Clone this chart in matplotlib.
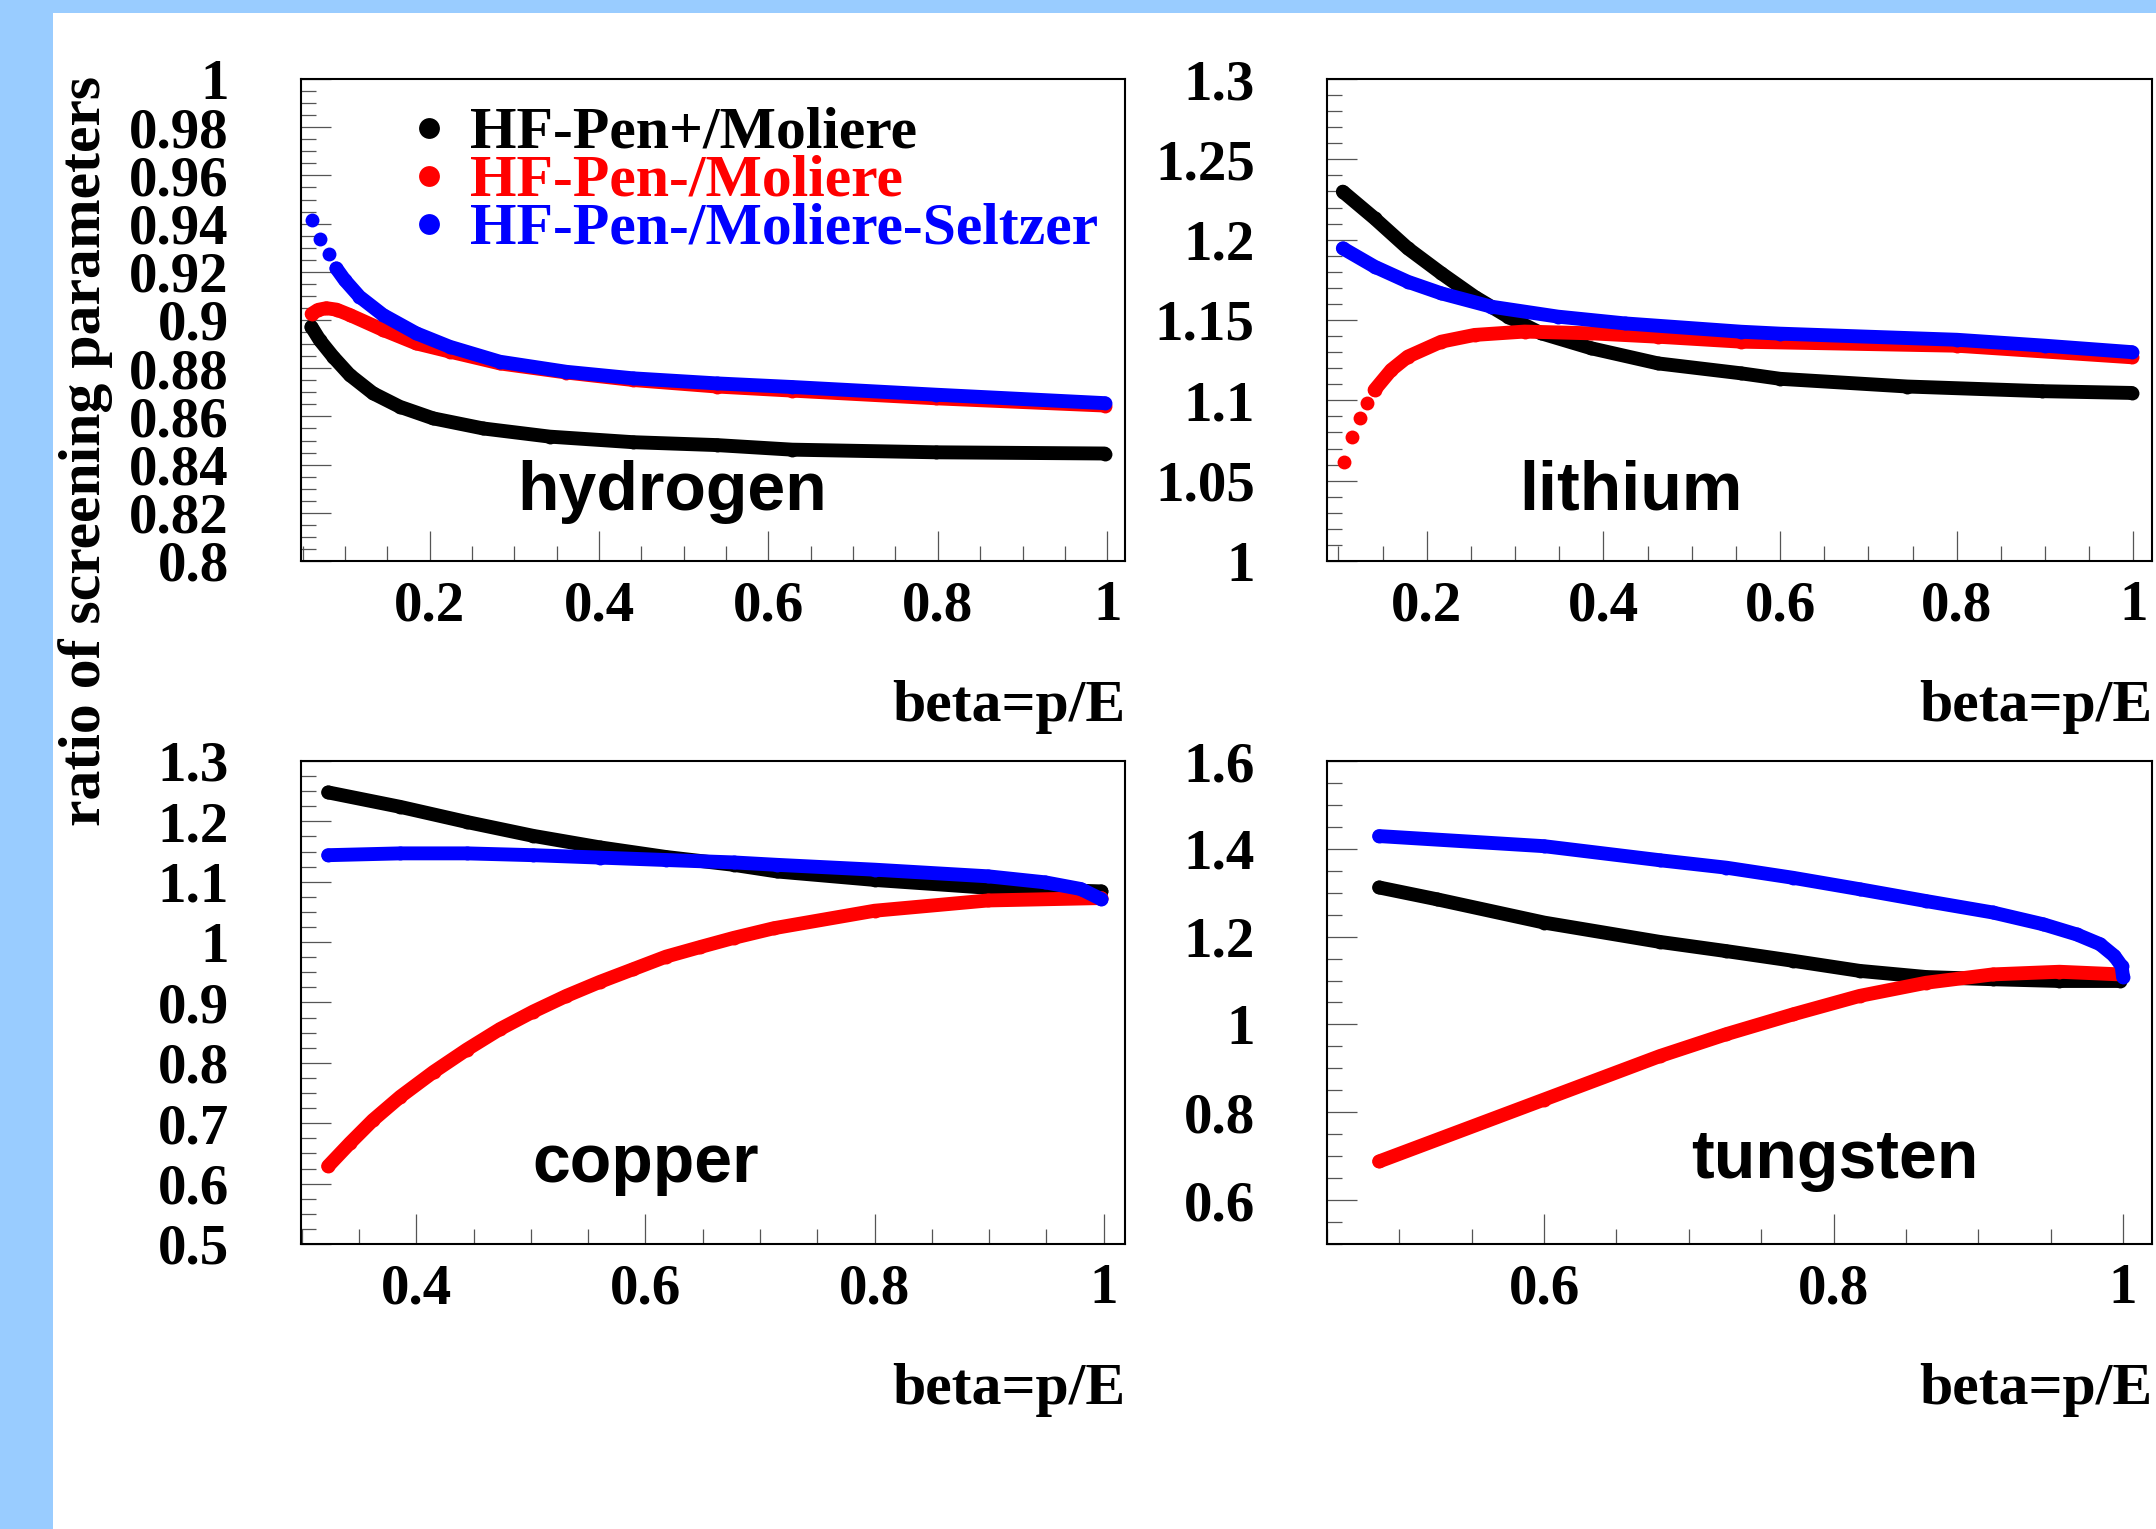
import matplotlib
matplotlib.use("Agg")
import matplotlib.pyplot as plt
from matplotlib.ticker import FixedLocator, MultipleLocator, FuncFormatter
from matplotlib.patches import Rectangle

# ---------------- data ----------------
SERIES_NAMES = ["HF-Pen+/Moliere", "HF-Pen-/Moliere", "HF-Pen-/Moliere-Seltzer"]
SERIES_COLORS = ["#000000", "#ff0000", "#0000ff"]
PANEL_NAMES = ["hydrogen", "lithium", "copper", "tungsten"]
X_TITLE = "beta=p/E"
Y_TITLE = "ratio of screening parameters"

# hydrogen
h_black_x = [0.0603, 0.070, 0.0858, 0.1055, 0.133, 0.1646, 0.2039, 0.263, 0.3418, 0.44, 0.5387, 0.628, 0.798, 0.997]
h_black_y = [0.8972, 0.8917, 0.8848, 0.8772, 0.8696, 0.8640, 0.8592, 0.855, 0.8516, 0.8493, 0.8481, 0.8462, 0.8451, 0.8446]
h_red_x = [0.0605, 0.068, 0.078, 0.090, 0.1055, 0.1448, 0.184, 0.2236, 0.2827, 0.3615, 0.44, 0.5387, 0.628, 0.798, 0.997]
h_red_y = [0.9025, 0.9042, 0.9049, 0.9043, 0.9021, 0.8959, 0.8903, 0.8869, 0.882, 0.8782, 0.8751, 0.8724, 0.8707, 0.8675, 0.8645]
h_blue_x = [0.0614, 0.0709, 0.081, 0.0898, 0.0996, 0.117, 0.1448, 0.184, 0.2236, 0.2827, 0.3615, 0.44, 0.5387, 0.628, 0.798, 0.997]
h_blue_y = [0.9415, 0.9335, 0.9274, 0.9214, 0.9166, 0.9097, 0.9021, 0.8945, 0.8889, 0.8827, 0.8785, 0.8758, 0.8737, 0.8722, 0.8690, 0.8655]

# lithium
li_black_x = [0.1049, 0.1408, 0.1785, 0.2163, 0.254, 0.2917, 0.3296, 0.3862, 0.4616, 0.556, 0.6, 0.744, 0.897, 0.998]
li_black_y = [1.2299, 1.2133, 1.1946, 1.1791, 1.1645, 1.1521, 1.1417, 1.1324, 1.123, 1.1168, 1.1134, 1.1086, 1.1057, 1.1046]
li_red_x = [0.106, 0.115, 0.1238, 0.1325, 0.1408, 0.1597, 0.1785, 0.2163, 0.254, 0.3107, 0.3862, 0.4616, 0.556, 0.8, 0.998]
li_red_y = [1.0618, 1.077, 1.0888, 1.0981, 1.1064, 1.1189, 1.1272, 1.1365, 1.1407, 1.1428, 1.1417, 1.1396, 1.1365, 1.1340, 1.1268]
li_blue_x = [0.1049, 0.1408, 0.1785, 0.2163, 0.273, 0.3484, 0.4239, 0.556, 0.6, 0.8, 0.9, 0.998]
li_blue_y = [1.1946, 1.1832, 1.1738, 1.1666, 1.1583, 1.1521, 1.1479, 1.1427, 1.1415, 1.1377, 1.1340, 1.1300]

# copper
cu_black_x = [0.323, 0.386, 0.444, 0.502, 0.560, 0.618, 0.677, 0.715, 0.8, 0.899, 0.998]
cu_black_y = [1.248, 1.224, 1.199, 1.176, 1.157, 1.141, 1.128, 1.117, 1.103, 1.090, 1.084]
cu_red_x = [0.323, 0.342, 0.362, 0.386, 0.415, 0.444, 0.473, 0.502, 0.531, 0.560, 0.589, 0.618, 0.648, 0.677, 0.712, 0.8, 0.899, 0.998]
cu_red_y = [0.629, 0.667, 0.705, 0.744, 0.785, 0.822, 0.856, 0.885, 0.911, 0.934, 0.955, 0.976, 0.992, 1.007, 1.023, 1.052, 1.069, 1.073]
cu_blue_x = [0.323, 0.386, 0.444, 0.502, 0.560, 0.618, 0.677, 0.715, 0.8, 0.899, 0.949, 0.98, 0.998]
cu_blue_y = [1.144, 1.147, 1.147, 1.144, 1.140, 1.136, 1.132, 1.128, 1.120, 1.109, 1.099, 1.088, 1.071]

# tungsten
w_black_x = [0.486, 0.526, 0.6, 0.680, 0.726, 0.772, 0.818, 0.864, 0.910, 0.956, 0.998]
w_black_y = [1.312, 1.285, 1.232, 1.188, 1.167, 1.145, 1.122, 1.108, 1.103, 1.099, 1.099]
w_red_x = [0.486, 0.6, 0.680, 0.726, 0.772, 0.818, 0.864, 0.910, 0.956, 0.998]
w_red_y = [0.688, 0.829, 0.928, 0.978, 1.023, 1.065, 1.095, 1.114, 1.120, 1.114]
w_blue_x = [0.486, 0.6, 0.680, 0.726, 0.772, 0.818, 0.864, 0.910, 0.945, 0.968, 0.984, 0.994, 0.999, 1.0]
w_blue_y = [1.429, 1.406, 1.374, 1.357, 1.334, 1.308, 1.281, 1.255, 1.228, 1.205, 1.183, 1.156, 1.133, 1.108]

# axis ranges and tick values
h_xlim, h_ylim = (0.048, 1.021), (0.8, 1.0)
li_xlim, li_ylim = (0.087, 1.021), (1.0, 1.3)
cu_xlim, cu_ylim = (0.2993, 1.0186), (0.5, 1.3)
w_xlim, w_ylim = (0.450, 1.020), (0.5, 1.6)

h_xticks = [0.2, 0.4, 0.6, 0.8, 1.0]
h_yticks = [0.8, 0.82, 0.84, 0.86, 0.88, 0.9, 0.92, 0.94, 0.96, 0.98, 1.0]
li_xticks = [0.2, 0.4, 0.6, 0.8, 1.0]
li_yticks = [1.0, 1.05, 1.1, 1.15, 1.2, 1.25, 1.3]
cu_xticks = [0.4, 0.6, 0.8, 1.0]
cu_yticks = [0.5, 0.6, 0.7, 0.8, 0.9, 1.0, 1.1, 1.2, 1.3]
w_xticks = [0.6, 0.8, 1.0]
w_yticks = [0.6, 0.8, 1.0, 1.2, 1.4, 1.6]

# ---------------- layout / style ----------------
W, H, DPI = 2156, 1529, 100
BG_BLUE = "#99ccff"
plt.rcParams["font.family"] = ["Liberation Serif", "DejaVu Serif"]
plt.rcParams["font.weight"] = "bold"

def fx(px):
    return px / W

def fy(py):
    return 1.0 - py / H

fig = plt.figure(figsize=(W / DPI, H / DPI), dpi=DPI, facecolor="white")
fig.patches.append(Rectangle((0, fy(13)), 1, 13 / H, transform=fig.transFigure,
                             facecolor=BG_BLUE, edgecolor="none", zorder=0))
fig.patches.append(Rectangle((0, 0), fx(53), 1, transform=fig.transFigure,
                             facecolor=BG_BLUE, edgecolor="none", zorder=0))

panels = [
    dict(name=PANEL_NAMES[0], box=(301, 79, 1125, 561), xlim=h_xlim, ylim=h_ylim,
         xt=h_xticks, yt=h_yticks, xminor=0.05, yminor=0.005,
         data=[(h_black_x, h_black_y), (h_red_x, h_red_y), (h_blue_x, h_blue_y)],
         line_from=[0, 0, 3], label_pos=(517, 510)),
    dict(name=PANEL_NAMES[1], box=(1327, 79, 2152, 561), xlim=li_xlim, ylim=li_ylim,
         xt=li_xticks, yt=li_yticks, xminor=0.05, yminor=0.01,
         data=[(li_black_x, li_black_y), (li_red_x, li_red_y), (li_blue_x, li_blue_y)],
         line_from=[0, 4, 0], label_pos=(1519, 510)),
    dict(name=PANEL_NAMES[2], box=(301, 761, 1125, 1244), xlim=cu_xlim, ylim=cu_ylim,
         xt=cu_xticks, yt=cu_yticks, xminor=0.05, yminor=0.025,
         data=[(cu_black_x, cu_black_y), (cu_red_x, cu_red_y), (cu_blue_x, cu_blue_y)],
         line_from=[0, 0, 0], label_pos=(532, 1182)),
    dict(name=PANEL_NAMES[3], box=(1327, 761, 2152, 1244), xlim=w_xlim, ylim=w_ylim,
         xt=w_xticks, yt=w_yticks, xminor=0.05, yminor=0.05,
         data=[(w_black_x, w_black_y), (w_red_x, w_red_y), (w_blue_x, w_blue_y)],
         line_from=[0, 0, 0], label_pos=(1691, 1178)),
]

fmt = FuncFormatter(lambda v, p: f"{v:g}")
LW = 10.0      # band width in points (~14 px)
MS = 10.0      # marker diameter in points
TICK_FS = 41
TITLE_FS = 43

for p in panels:
    x0, y0, x1, y1 = p["box"]
    ax = fig.add_axes([fx(x0), fy(y1), (x1 - x0) / W, (y1 - y0) / H])
    for (xs, ys), col, lf in zip(p["data"], SERIES_COLORS, p["line_from"]):
        ax.plot(xs[lf:], ys[lf:], color=col, lw=LW, solid_capstyle="round",
                solid_joinstyle="round", zorder=2)
        ax.plot(xs, ys, "o", color=col, ms=MS, mew=0, zorder=2)
    ax.set_xlim(*p["xlim"])
    ax.set_ylim(*p["ylim"])
    ax.xaxis.set_major_locator(FixedLocator(p["xt"]))
    ax.yaxis.set_major_locator(FixedLocator(p["yt"]))
    ax.xaxis.set_minor_locator(MultipleLocator(p["xminor"]))
    ax.yaxis.set_minor_locator(MultipleLocator(p["yminor"]))
    ax.xaxis.set_major_formatter(fmt)
    ax.yaxis.set_major_formatter(fmt)
    ax.tick_params(which="both", direction="in", top=False, right=False,
                   color="#555555", width=0.9)
    ax.tick_params(which="major", length=21.6)
    ax.tick_params(which="minor", length=10.8)
    ax.tick_params(axis="x", which="major", pad=14, labelsize=TICK_FS)
    ax.tick_params(axis="y", which="major", pad=52, labelsize=TICK_FS)
    for lab in ax.get_xticklabels() + ax.get_yticklabels():
        lab.set_fontweight("bold")
        lab.set_family(["Liberation Serif", "DejaVu Serif"])
    for s in ax.spines.values():
        s.set_linewidth(1.5)
        s.set_color("black")
    # x-axis title, right aligned with the frame
    fig.text(fx(x1), fy(y1 + 160), X_TITLE, ha="right", va="baseline",
             fontsize=TITLE_FS, fontweight="bold")
    # panel label
    lx, ly = p["label_pos"]
    fig.text(fx(lx), fy(ly), p["name"], ha="left", va="baseline",
             fontsize=49, fontweight="bold", family=["Liberation Sans", "DejaVu Sans"])

# y-axis title
fig.text(fx(86), fy(76), Y_TITLE, rotation=90, ha="center", va="top",
         fontsize=TITLE_FS, fontweight="bold")

# legend (in hydrogen panel)
leg_marker_x = 429
leg_text_x = 470
leg_rows = [147, 195, 243]
for name, col, base in zip(SERIES_NAMES, SERIES_COLORS, leg_rows):
    fig.lines.append(plt.Line2D([fx(leg_marker_x)], [fy(base - 19)], marker="o", ms=15,
                                mew=0, color=col, transform=fig.transFigure))
    fig.text(fx(leg_text_x), fy(base), name, ha="left", va="baseline", color=col,
             fontsize=TITLE_FS, fontweight="bold")

fig.savefig("out.png", dpi=DPI, facecolor="white")
